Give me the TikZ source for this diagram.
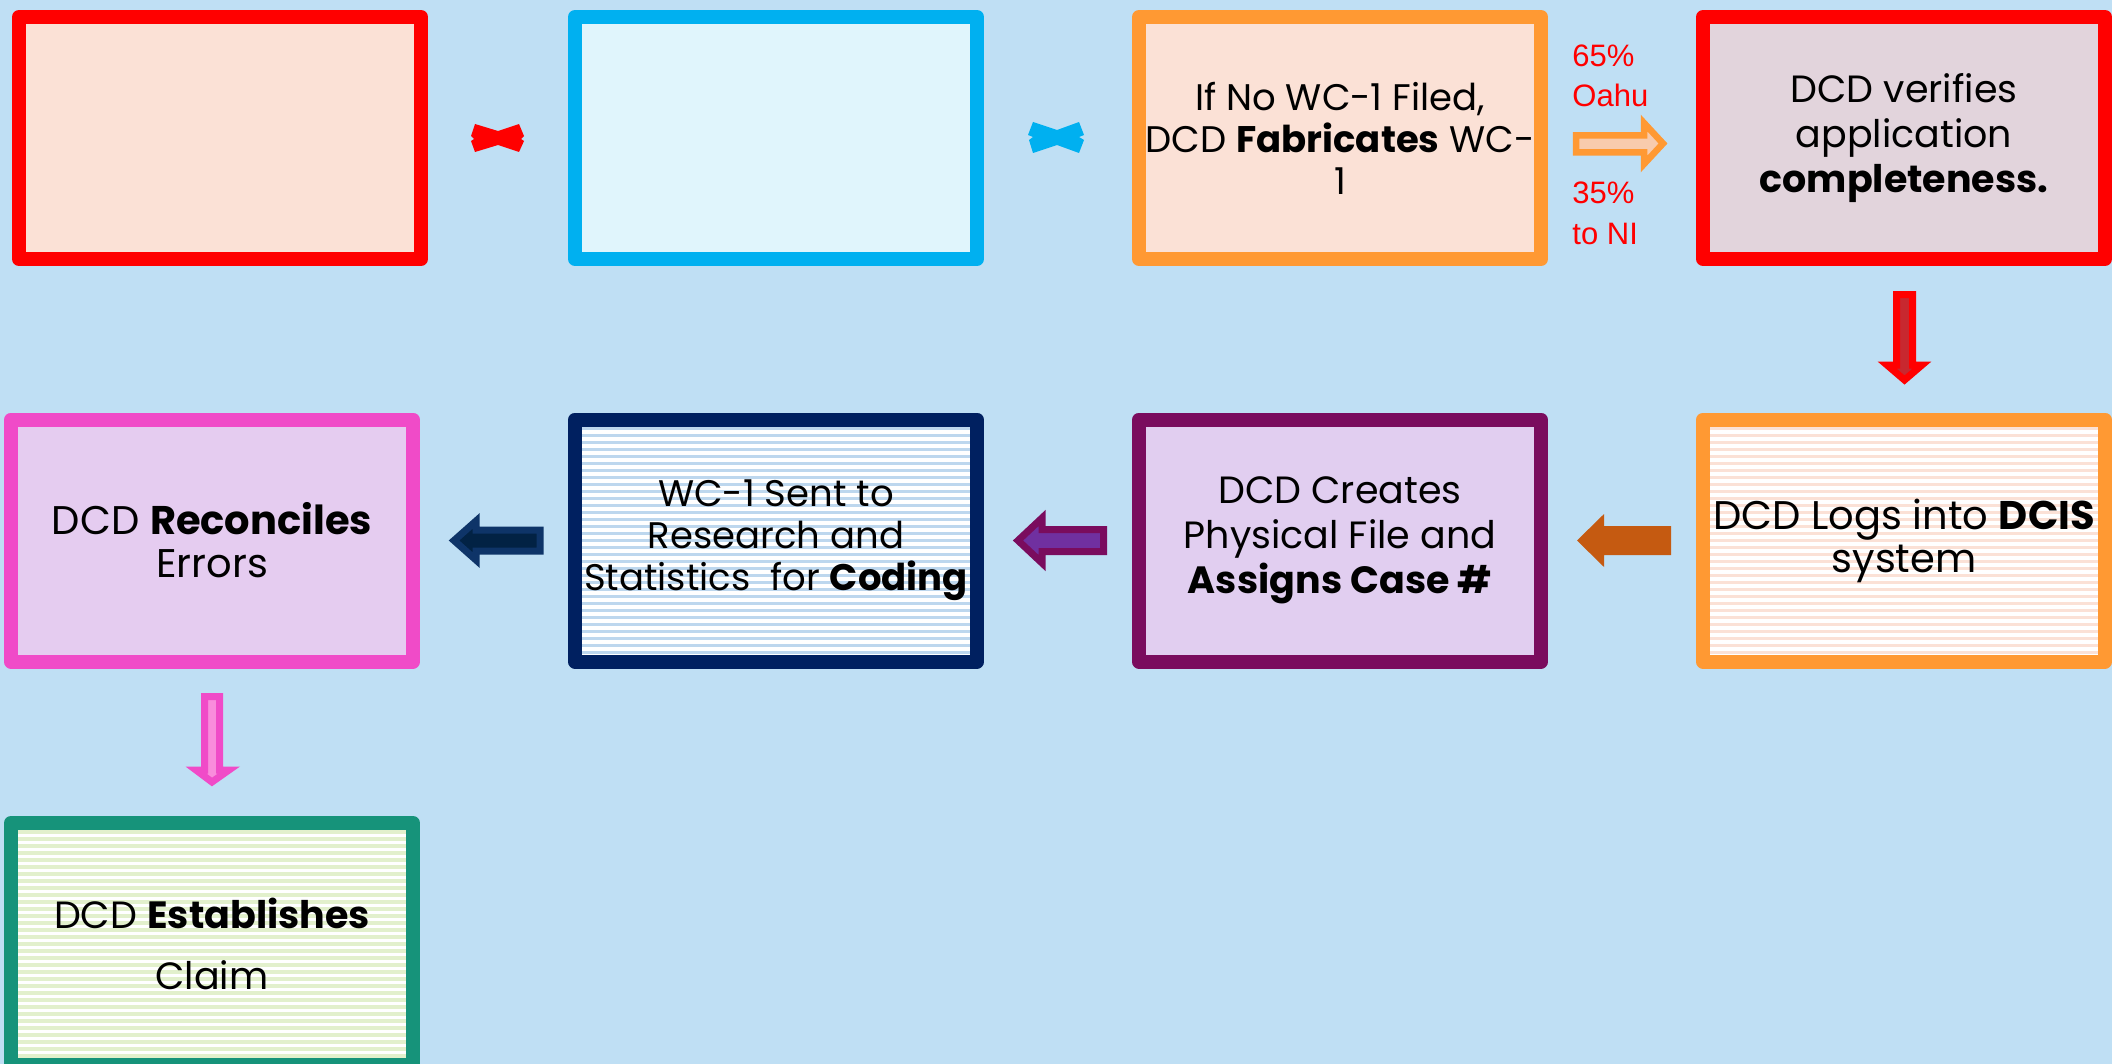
\documentclass[tikz,border=0pt]{standalone}
\usepackage{fontspec}
\setmainfont{Poppins}
\newfontfamily\arialf{Liberation Sans}
\definecolor{bg}{RGB}{191,223,244}
\definecolor{redb}{RGB}{255,0,0}
\definecolor{peach}{RGB}{251,225,214}
\definecolor{cyanb}{RGB}{0,176,240}
\definecolor{cyanf}{RGB}{224,245,252}
\definecolor{orangeb}{RGB}{255,153,51}
\definecolor{mauvef}{RGB}{226,212,220}
\definecolor{plumb}{RGB}{122,12,94}
\definecolor{lavf}{RGB}{225,206,240}
\definecolor{navyb}{RGB}{0,32,96}
\definecolor{bluestr}{RGB}{189,215,238}
\definecolor{pinkb}{RGB}{240,75,200}
\definecolor{pinkf}{RGB}{229,204,240}
\definecolor{tealb}{RGB}{22,147,122}
\definecolor{greenstr}{RGB}{226,240,204}
\definecolor{darkred}{RGB}{200,40,47}
\definecolor{brownar}{RGB}{197,90,17}
\definecolor{purplef}{RGB}{112,48,160}
\definecolor{navyar}{RGB}{14,52,104}
\definecolor{navyf}{RGB}{2,34,68}
\definecolor{pinkar}{RGB}{249,140,220}
\definecolor{orangef}{RGB}{248,203,173}
\begin{document}
\begin{tikzpicture}[x=0.5pt,y=-0.5pt,
  box/.style={rectangle, line width=7pt, line join=round, minimum width=201pt,
    minimum height=121pt, inner sep=0pt, align=center, text=black,
    font=\fontsize{20pt}{21.5pt}\selectfont},
  stripes/.style={fill=white, path picture={
    \foreach \k in {0,...,40}{
      \fill[#1] ([yshift=-\k*3.5pt]path picture bounding box.north west)
        rectangle ([yshift=-\k*3.5pt-1.75pt]path picture bounding box.north east);}}},
  lbl/.style={anchor=base west, inner sep=0pt, text=redb,
    font=\arialf\fontsize{15.5pt}{20pt}\selectfont}]
\useasboundingbox (0,0) rectangle (2112,1064);
\fill[bg] (0,0) rectangle (2112,1064);
\clip (0,0) rectangle (2112,1064);

% row 1
\node[box, draw=redb, fill=peach] (b1) at (220,138) {};
\node[box, draw=cyanb, fill=cyanf] (b2) at (776,138) {};
\node[box, draw=orangeb, fill=peach, font=\fontsize{18.5pt}{21pt}\selectfont] (b3) at (1340,138)
  {If No WC-1 Filed,\\DCD \textbf{Fabricates} WC-\\1};
\node[box, draw=redb, fill=mauvef, font=\fontsize{19pt}{22.5pt}\selectfont] (b4) at (1904,138)
  {DCD verifies\\application\\\textbf{completeness.}};
% row 2
\node[box, draw=orangeb, stripes=peach] (b5) at (1904,540.5)
  {DCD Logs into \textbf{DCIS}\\system};
\node[box, draw=plumb, fill=lavf, font=\fontsize{19pt}{22.5pt}\selectfont] (b8) at (1340,540.5)
  {DCD Creates\\Physical File and\\\textbf{Assigns Case \#}};
\node[box, draw=navyb, stripes=bluestr, font=\fontsize{18.5pt}{21pt}\selectfont] (b7) at (776,540.5)
  {WC-1 Sent to\\Research and\\Statistics\ \ for \textbf{Coding}};
\node[box, draw=pinkb, fill=pinkf] (b6) at (212,540.5)
  {DCD \textbf{Reconciles}\\Errors};
% row 3
\node[box, draw=tealb, stripes=greenstr, font=\fontsize{19pt}{30.5pt}\selectfont] (b9) at (212,944)
  {DCD \textbf{Establishes}\\Claim};

% bowtie connectors
\fill[redb] (475,124) -- (498,131) -- (519,124) -- (524,136) -- (521,139) -- (524,141)
  -- (519,152) -- (498,145) -- (475,152) -- (471,141) -- (474,139) -- (471,136) -- cycle;
\fill[cyanb] (1033,122) -- (1057,130) -- (1079,122) -- (1084,135) -- (1079,137) -- (1084,140)
  -- (1079,153) -- (1057,145) -- (1033,153) -- (1029,140) -- (1033,137) -- (1028,135) -- cycle;

% orange arrow b3 -> b4
\draw[orangeb, fill=orangef, line width=3.25pt, line join=miter]
  (1576,135.5) -- (1644,135.5) -- (1644,123) -- (1663,143.5) -- (1644,164) -- (1644,152.5)
  -- (1576,152.5) -- cycle;
\node[lbl] (l1) at (1572,67) {65\%};
\node[lbl] (l2) at (1572,107) {Oahu};
\node[lbl] (l3) at (1572,204) {35\%};
\node[lbl] (l4) at (1572,244) {to NI};

% red down arrow b4 -> b5
\draw[redb, fill=darkred, line width=3.5pt, line join=miter]
  (1896.5,294.5) -- (1912.5,294.5) -- (1912.5,365) -- (1922,365) -- (1904.5,380)
  -- (1887,365) -- (1896.5,365) -- cycle;

% brown arrow b5 -> b8
\fill[brownar] (1671,526) -- (1604,526) -- (1604,514) -- (1577,540.5) -- (1604,567)
  -- (1604,555) -- (1671,555) -- cycle;

% purple arrow b8 -> b7
\draw[plumb, fill=purplef, line width=3.5pt, line join=miter]
  (1103.5,529.5) -- (1042,529.5) -- (1042,518) -- (1018,540.5) -- (1042,563)
  -- (1042,551.5) -- (1103.5,551.5) -- cycle;

% navy arrow b7 -> b6
\draw[navyar, fill=navyf, line width=3.5pt, line join=miter]
  (540,530) -- (476,530) -- (476,521) -- (454,540.5) -- (476,560)
  -- (476,551) -- (540,551) -- cycle;

% pink down arrow b6 -> b9
\draw[pinkb, fill=pinkar, line width=3.5pt, line join=miter]
  (204.5,696.5) -- (219.5,696.5) -- (219.5,770) -- (229,770) -- (212,782)
  -- (196,770) -- (204.5,770) -- cycle;
\end{tikzpicture}
\end{document}
